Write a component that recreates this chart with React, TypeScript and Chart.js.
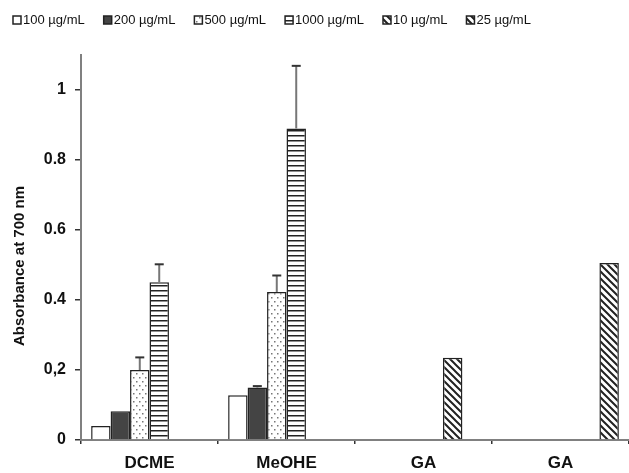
import React, { useEffect, useRef } from "react";
import { Chart, registerables } from "chart.js";

Chart.register(...registerables);

const categories = ["DCME", "MeOHE", "GA", "GA"];
const seriesNames = ["100 µg/mL", "200 µg/mL", "500 µg/mL", "1000 µg/mL", "10 µg/mL", "25 µg/mL"];
const s100 = [0.04, 0.128, null, null];
const s200 = [0.082, 0.15, null, null];
const s500 = [0.2, 0.423, null, null];
const s1000 = [0.451, 0.89, null, null];
const s10 = [null, null, 0.235, null];
const s25 = [null, null, null, 0.506];
const e100 = [0, 0, 0, 0];
const e200 = [0, 0.004, 0, 0];
const e500 = [0.036, 0.047, 0, 0];
const e1000 = [0.051, 0.179, 0, 0];
const e10 = [0, 0, 0, 0];
const e25 = [0, 0, 0, 0];
const yTickValues = [0, 0.2, 0.4, 0.6, 0.8, 1];
const yTickLabels = ["0", "0,2", "0.4", "0.6", "0.8", "1"];
const yTitle = "Absorbance at 700 nm";

const SANS = '"Liberation Sans", Arial, sans-serif';

function makePattern(kind: string): CanvasPattern | string {
  const c = document.createElement("canvas");
  const ctx = c.getContext("2d")!;
  if (kind === "dots") {
    c.width = 6; c.height = 8;
    ctx.fillStyle = "#fff"; ctx.fillRect(0, 0, 6, 8);
    ctx.fillStyle = "#777";
    ctx.fillRect(1, 1, 1.5, 1.5);
    ctx.fillRect(4, 5, 1.5, 1.5);
  } else if (kind === "hstripes") {
    c.width = 4; c.height = 5;
    ctx.fillStyle = "#fff"; ctx.fillRect(0, 0, 4, 5);
    ctx.fillStyle = "#222"; ctx.fillRect(0, 0, 4, 1.5);
  } else if (kind === "diag") {
    c.width = 7; c.height = 7;
    ctx.fillStyle = "#fff"; ctx.fillRect(0, 0, 7, 7);
    ctx.strokeStyle = "#222"; ctx.lineWidth = 2;
    ctx.beginPath();
    ctx.moveTo(-1, -1); ctx.lineTo(8, 8);
    ctx.moveTo(-1, 6); ctx.lineTo(1, 8);
    ctx.moveTo(6, -1); ctx.lineTo(8, 1);
    ctx.stroke();
  }
  const p = ctx.createPattern(c, "repeat");
  return p || "#fff";
}

const legendPlugin = {
  id: "customLegend",
  afterDraw(chart: any) {
    const ctx = chart.ctx;
    ctx.save();
    ctx.font = `13px ${SANS}`;
    ctx.textBaseline = "middle";
    let x = 13;
    const y = 20;
    chart.data.datasets.forEach((ds: any) => {
      ctx.fillStyle = ds.backgroundColor;
      ctx.fillRect(x, y - 4, 8, 8);
      ctx.strokeStyle = "#222";
      ctx.lineWidth = 1.5;
      ctx.strokeRect(x, y - 4, 8, 8);
      ctx.fillStyle = "#111";
      ctx.fillText(ds.label, x + 10, y);
      x += 10 + ctx.measureText(ds.label).width + 19;
    });
    // y-axis title
    ctx.translate(20, 266);
    ctx.rotate(-Math.PI / 2);
    ctx.font = `bold 15px ${SANS}`;
    ctx.textAlign = "center";
    ctx.fillStyle = "#111";
    ctx.fillText(yTitle, 0, 0);
    ctx.restore();
  },
};

const errorBarPlugin = {
  id: "errorBars",
  afterDatasetsDraw(chart: any) {
    const ctx = chart.ctx;
    const yScale = chart.scales.y;
    ctx.save();
    chart.data.datasets.forEach((ds: any, di: number) => {
      const meta = chart.getDatasetMeta(di);
      (ds.errors || []).forEach((err: number, i: number) => {
        const v = ds.data[i];
        if (v == null || !err) return;
        const bar = meta.data[i];
        const top = yScale.getPixelForValue(v + err);
        const base = yScale.getPixelForValue(v);
        ctx.strokeStyle = "#777";
        ctx.lineWidth = 2;
        ctx.beginPath();
        ctx.moveTo(bar.x, base);
        ctx.lineTo(bar.x, top);
        ctx.stroke();
        ctx.strokeStyle = "#333";
        ctx.beginPath();
        ctx.moveTo(bar.x - 4.5, top);
        ctx.lineTo(bar.x + 4.5, top);
        ctx.stroke();
      });
    });
    ctx.restore();
  },
};

export default function App() {
  const ref = useRef<HTMLCanvasElement>(null);
  useEffect(() => {
    document.body.style.margin = "0";
    const fills = ["#fff", "#444", makePattern("dots"), makePattern("hstripes"), makePattern("diag"), makePattern("diag")];
    const values = [s100, s200, s500, s1000, s10, s25];
    const errs = [e100, e200, e500, e1000, e10, e25];
    const chart = new Chart(ref.current!, {
      type: "bar",
      data: {
        labels: categories,
        datasets: values.map((d, i) => ({
          label: seriesNames[i],
          data: d,
          errors: errs[i],
          backgroundColor: fills[i],
          borderColor: "#222",
          borderWidth: 1.5,
          categoryPercentage: 0.852,
          barPercentage: 1.0,
        })) as any,
      },
      options: {
        responsive: false,
        animation: false,
        layout: { padding: { top: 55, left: 0, right: 0, bottom: 0 } },
        plugins: { legend: { display: false }, tooltip: { enabled: false } },
        scales: {
          x: {
            afterFit: (s: any) => { s.height = 33; },
            grid: { drawOnChartArea: false, drawTicks: true, tickLength: 4, color: "#333", lineWidth: 1.5, offset: true },
            border: { color: "#808080", width: 2 },
            ticks: { color: "#111", padding: 9, font: { family: SANS, size: 17, weight: "bold" } },
          },
          y: {
            min: 0,
            max: 1.1,
            afterFit: (s: any) => { s.width = 81; },
            afterBuildTicks: (s: any) => { s.ticks = yTickValues.map((v) => ({ value: v })); },
            grid: { drawOnChartArea: false, drawTicks: true, tickLength: 6, color: "#333", lineWidth: 1.5 },
            border: { color: "#808080", width: 2 },
            ticks: {
              color: "#111",
              padding: 9,
              font: { family: SANS, size: 16, weight: "bold" },
              callback: (_v: any, i: number) => yTickLabels[i],
            },
          },
        },
      },
      plugins: [legendPlugin, errorBarPlugin],
    });
    return () => chart.destroy();
  }, []);
  return (
    <div style={{ width: 629, height: 473, background: "#fff" }}>
      <canvas ref={ref} width={629} height={473} />
    </div>
  );
}
